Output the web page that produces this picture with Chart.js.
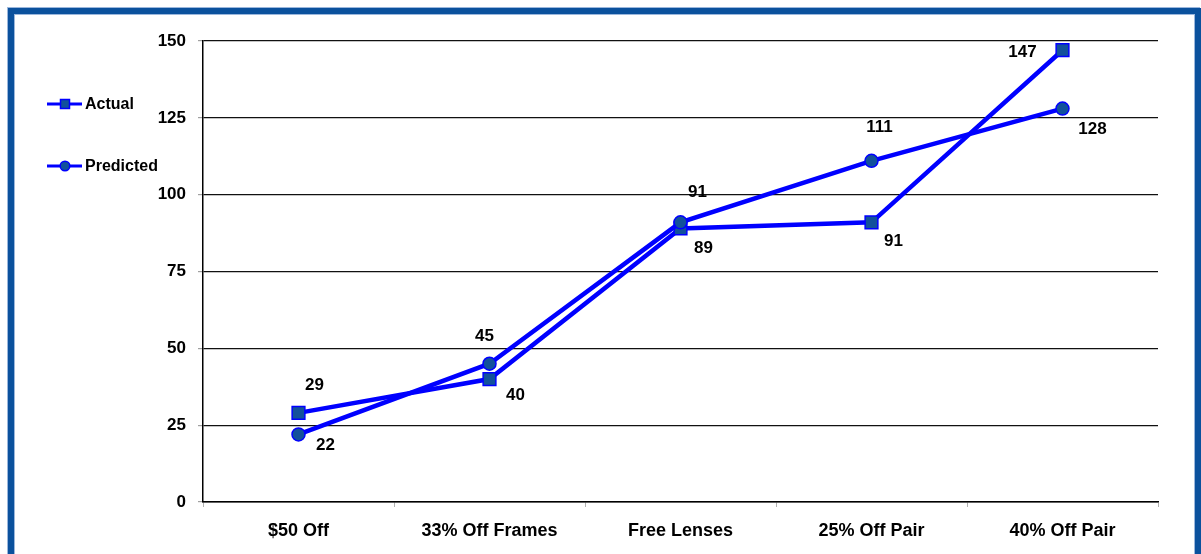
<!DOCTYPE html>
<html>
<head>
<meta charset="utf-8">
<script src="https://cdn.jsdelivr.net/npm/chart.js@4.4.1/dist/chart.umd.min.js"></script>
<style>
  html, body { margin: 0; padding: 0; background: #fff; overflow: hidden; }
  #wrap { position: relative; width: 1201px; height: 554px; }
  #c { position: absolute; left: 0; top: 0; }
  #frame {
    position: absolute; left: 8px; top: 8px; width: 1181px; height: 600px;
    border: 6px solid #0b519d; pointer-events: none;
    box-shadow: inset 1px 1px 0 #9bb7dc, inset -1px 0 0 #9bb7dc, -1px -1px 0 #9bb7dc;
  }
</style>
</head>
<body>
<div id="wrap">
  <canvas id="c" width="1201" height="554"></canvas>
  <div id="frame"></div>
</div>
<script>
// ---- data ----
const categories = ['$50 Off', '33% Off Frames', 'Free Lenses', '25% Off Pair', '40% Off Pair'];
const actualValues = [29, 40, 89, 91, 147];
const predictedValues = [22, 45, 91, 111, 128];
const yTicks = [0, 25, 50, 75, 100, 125, 150];

// ---- styles ----
const LINE_BLUE = '#0000ff';
const MARKER_FILL = '#12519b';
const FONT = 'Liberation Sans, Arial, sans-serif';
// label offsets (pixels, relative to the point) per series
const actualLabelOffsets = [[16, -28], [26, 16], [23, 20], [22, 19], [-40, 2]];
const predictedLabelOffsets = [[27, 11], [-5, -27], [17, -30], [8, -34], [30, 21]];

const dataLabelPlugin = {
  id: 'dataLabels',
  afterDatasetsDraw(chart) {
    const ctx = chart.ctx;
    ctx.save();
    ctx.font = 'bold 17px ' + FONT;
    ctx.fillStyle = '#000';
    ctx.textAlign = 'center';
    ctx.textBaseline = 'middle';
    chart.data.datasets.forEach((ds, di) => {
      const meta = chart.getDatasetMeta(di);
      const offs = ds.labelOffsets;
      meta.data.forEach((pt, i) => {
        const o = offs[i];
        ctx.fillText(String(ds.data[i]), pt.x + o[0], pt.y + o[1]);
      });
    });
    ctx.restore();
  }
};

const legendPlugin = {
  id: 'sideLegend',
  afterDraw(chart) {
    const ctx = chart.ctx;
    ctx.save();
    const items = [
      { label: 'Actual', y: 104, style: 'rect' },
      { label: 'Predicted', y: 166, style: 'circle' }
    ];
    items.forEach(it => {
      ctx.strokeStyle = LINE_BLUE;
      ctx.lineWidth = 3;
      ctx.beginPath();
      ctx.moveTo(47, it.y);
      ctx.lineTo(82, it.y);
      ctx.stroke();
      ctx.fillStyle = MARKER_FILL;
      ctx.lineWidth = 1.5;
      if (it.style === 'rect') {
        ctx.fillRect(60.5, it.y - 4.5, 9, 9);
        ctx.strokeRect(60.5, it.y - 4.5, 9, 9);
      } else {
        ctx.beginPath();
        ctx.arc(65, it.y, 4.8, 0, Math.PI * 2);
        ctx.fill();
        ctx.stroke();
      }
      ctx.fillStyle = '#000';
      ctx.font = 'bold 16px ' + FONT;
      ctx.textAlign = 'left';
      ctx.textBaseline = 'middle';
      ctx.fillText(it.label, 85, it.y + 1);
    });
    ctx.restore();
  }
};

new Chart(document.getElementById('c'), {
  type: 'line',
  data: {
    labels: categories,
    datasets: [
      {
        label: 'Actual',
        data: actualValues,
        order: 2,
        borderColor: LINE_BLUE,
        borderWidth: 4.5,
        backgroundColor: MARKER_FILL,
        pointStyle: 'rect',
        pointRadius: 9,
        pointBorderWidth: 1.5,
        pointBorderColor: LINE_BLUE,
        pointBackgroundColor: MARKER_FILL,
        tension: 0,
        labelOffsets: actualLabelOffsets
      },
      {
        label: 'Predicted',
        data: predictedValues,
        order: 1,
        borderColor: LINE_BLUE,
        borderWidth: 4.5,
        backgroundColor: MARKER_FILL,
        pointStyle: 'circle',
        pointRadius: 6.5,
        pointBorderWidth: 1.5,
        pointBorderColor: LINE_BLUE,
        pointBackgroundColor: MARKER_FILL,
        tension: 0,
        labelOffsets: predictedLabelOffsets
      }
    ]
  },
  options: {
    responsive: false,
    animation: false,
    layout: { padding: { left: 0, top: 41, right: 43, bottom: 0 } },
    plugins: {
      legend: { display: false },
      tooltip: { enabled: false }
    },
    scales: {
      x: {
        offset: true,
        afterFit(scale) { scale.height = 52; },
        grid: {
          offset: true,
          drawOnChartArea: false,
          drawTicks: true,
          tickLength: 5,
          tickColor: '#b0b0b0',
          color: '#b0b0b0'
        },
        border: { display: true, color: '#000', width: 1.5 },
        ticks: {
          color: '#000',
          font: { family: FONT, size: 18, weight: 'bold' },
          padding: 13,
          maxRotation: 0
        }
      },
      y: {
        min: yTicks[0],
        max: yTicks[yTicks.length - 1],
        afterFit(scale) { scale.width = 203; },
        afterBuildTicks(scale) { scale.ticks = yTicks.map(v => ({ value: v })); },
        grid: {
          color: '#111',
          lineWidth: 1.2,
          drawTicks: true,
          tickLength: 5,
          tickColor: '#a0a0a0'
        },
        border: { display: true, color: '#000', width: 1.5 },
        ticks: {
          color: '#000',
          font: { family: FONT, size: 17, weight: 'bold' },
          padding: 12
        }
      }
    }
  },
  plugins: [dataLabelPlugin, legendPlugin]
});
</script>
</body>
</html>
